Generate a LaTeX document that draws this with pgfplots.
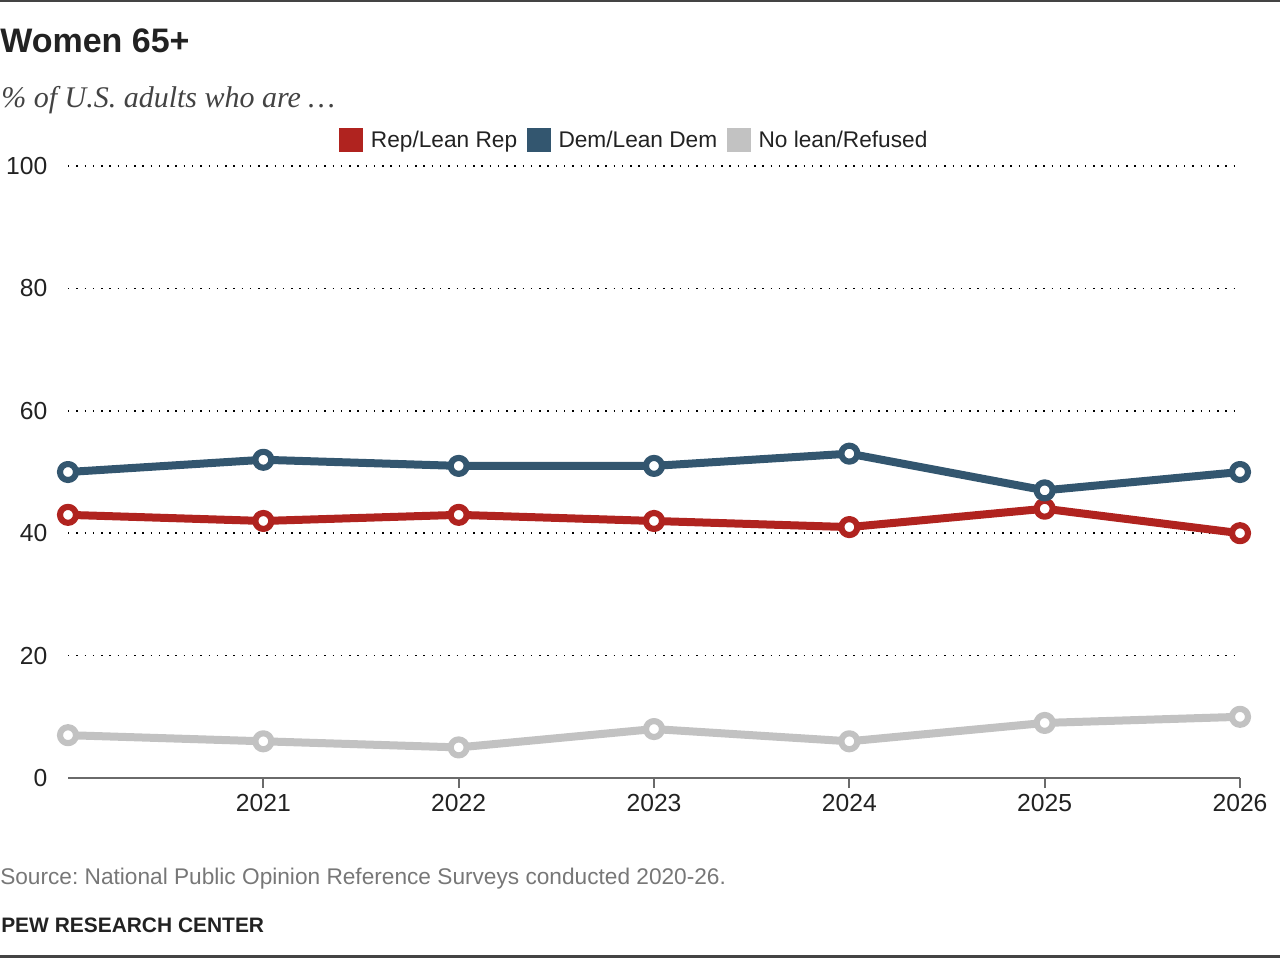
\documentclass[border=0pt]{standalone}
\usepackage{pgfplots}
\pgfplotsset{compat=1.18}
\usepackage{fontspec}
\setmainfont{Liberation Sans}
\newfontfamily\serifit{Liberation Serif}
\definecolor{repc}{HTML}{B0231F}
\definecolor{demc}{HTML}{33566F}
\definecolor{noc}{HTML}{C2C2C2}
\definecolor{txt}{HTML}{222222}
\definecolor{srcc}{HTML}{777777}
\definecolor{axc}{HTML}{6A6A6A}
\definecolor{rulec}{HTML}{444444}
\frenchspacing
\begin{document}
\begin{tikzpicture}[x=0.75pt,y=0.75pt]
\useasboundingbox (0,0) rectangle (1280,-958);
\fill[rulec] (0,0) rectangle (1280,-2);
\fill[rulec] (0,-955) rectangle (1280,-958);
\node[anchor=base west,inner sep=0pt,text=txt,font=\fontsize{25.5pt}{30pt}\selectfont\bfseries] at (0,-52) {Women 65+};
\node[anchor=base west,inner sep=0pt,text=txt!85,font=\fontsize{22.5pt}{26pt}\selectfont\serifit\itshape] at (1,-107) {\% of U.S. adults who are \dots};
\node[anchor=base west,inner sep=0pt,text=srcc,font=\fontsize{17pt}{20pt}\selectfont] at (0,-884) {Source: National Public Opinion Reference Surveys conducted 2020-26.};
\node[anchor=base west,inner sep=0pt,text=txt,font=\fontsize{15.7pt}{20pt}\selectfont\bfseries] at (1,-932) {PEW RESEARCH CENTER};
\begin{axis}[
  at={(51pt,-583.5pt)}, anchor=south west,
  scale only axis, width=879pt, height=459pt,
  xmin=2020, xmax=2026, ymin=0, ymax=100,
  clip=false,
  axis x line*=bottom, axis y line*=left,
  x axis line style={draw=axc, line width=1.8pt, -},
  y axis line style={draw=none},
  xtick={2021,2022,2023,2024,2025,2026},
  ytick={0,20,40,60,80,100},
  xticklabels={2021,2022,2023,2024,2025,2026},
  x tick style={draw=axc, line width=1.5pt},
  y tick style={draw=none},
  tick align=outside,
  x tick label style={yshift=-1pt},
  /pgf/number format/assume math mode=true,
  ticklabel style={font=\fontsize{18.5pt}{22pt}\selectfont, text=txt},
  y tick label style={anchor=east, xshift=-4.5pt},
  major tick length=7.5pt,
  ymajorgrids,
  grid style={black, line width=1.1pt, dash pattern=on 1.1pt off 5.1pt},
  legend columns=3,
  legend style={draw=none, fill=none, at={(0.4834,1.0425)}, anchor=center,
    font=\fontsize{17pt}{20pt}\selectfont, text=txt,
    /tikz/every odd column/.append style={column sep=4pt},
    /tikz/every even column/.append style={column sep=5pt},
    inner sep=0pt, nodes={inner sep=2pt}},
  legend image code/.code={\fill[#1] (0pt,-9pt) rectangle (18pt,9pt);},
]
\addlegendimage{fill=repc, draw=none}
\addlegendentry{Rep/Lean Rep}
\addlegendimage{fill=demc, draw=none}
\addlegendentry{Dem/Lean Dem}
\addlegendimage{fill=noc, draw=none}
\addlegendentry{No lean/Refused}
\addplot[noc, line width=6pt, line join=round, mark=*, mark size=6pt,
  mark options={fill=white, draw=noc, line width=4.6pt}, forget plot]
  coordinates {(2020,7) (2021,6) (2022,5) (2023,8) (2024,6) (2025,9) (2026,10)};
\addplot[repc, line width=6pt, line join=round, mark=*, mark size=6pt,
  mark options={fill=white, draw=repc, line width=4.6pt}, forget plot]
  coordinates {(2020,43) (2021,42) (2022,43) (2023,42) (2024,41) (2025,44) (2026,40)};
\addplot[demc, line width=6pt, line join=round, mark=*, mark size=6pt,
  mark options={fill=white, draw=demc, line width=4.6pt}, forget plot]
  coordinates {(2020,50) (2021,52) (2022,51) (2023,51) (2024,53) (2025,47) (2026,50)};
\end{axis}
\end{tikzpicture}
\end{document}
